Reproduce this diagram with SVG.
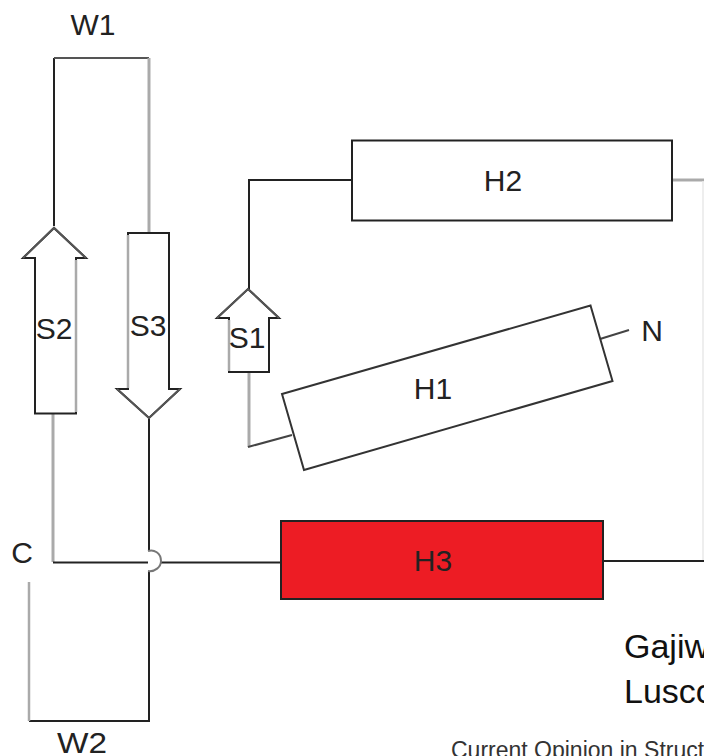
<svg xmlns="http://www.w3.org/2000/svg" width="704" height="756" viewBox="0 0 704 756">
<style>
.l{font-family:"Liberation Sans",Arial,sans-serif;fill:#222;text-anchor:middle;font-size:30px}
.t{font-family:"Liberation Sans",Arial,sans-serif;fill:#111;font-size:34px}
.c{fill:none;stroke:#222;stroke-width:2}
.g{fill:none;stroke:#aaa;stroke-width:3}
.n{fill:#fff;stroke:#222;stroke-width:2}
.s{fill:none;stroke:#aaa;stroke-width:2.500}
.h{fill:none;stroke:#555;stroke-width:2}
.d{fill:none;stroke:#444;stroke-width:2}
</style>
<rect width="704" height="756" fill="#fff"/>
<g id="connectors">
<path class="c" d="M54 226V58"/>
<path class="h" d="M54 58H149"/>
<path class="g" d="M149 58V233"/>
<path class="c" d="M351 180H249V290"/>
<path class="g" d="M249 373V447"/>
<path class="d" d="M248 447L292 435"/>
<path class="g" d="M672 180H704"/>
<path fill="none" stroke="#e8e8e8" stroke-width="1.500" d="M703 181V560"/>
<path class="d" d="M600 339L629 330"/>
<path class="g" d="M53 414V562"/>
<path class="c" d="M53 562.500H148M161 562.500H281"/>
<path class="c" d="M149 419V551M149 571V721H29"/>
<path fill="none" stroke="#777" stroke-width="2" d="M148 551C154 549 161 553 161 561C161 567 155 572 148 571"/>
<path class="s" d="M29 582V721"/>
<path class="c" d="M603 561H704"/>
</g>
<g id="S2"><path class="n" d="M35 413.500V258H23L54 228L86 258H76V413.500Z"/><path class="s" d="M76 260V412"/><path class="h" d="M23 258L54 228L86 258"/><text class="l" x="54" y="339">S2</text></g>
<g id="S3"><path class="n" d="M128 233H169V389H180L149 418L117 389H128Z"/><path class="s" d="M128 235V388"/><path class="h" d="M117 389L149 418L180 389"/><text class="l" x="148" y="336">S3</text></g>
<g id="S1"><path class="n" d="M229 372V318H217L248 289L279 318H269V372Z"/><path class="s" d="M229 320V371"/><path class="h" d="M217 318L248 289L279 318"/><text class="l" x="247" y="348">S1</text></g>
<g id="H2"><rect class="n" x="352" y="140.500" width="320" height="80"/><text class="l" x="503" y="191">H2</text></g>
<g id="H1"><path fill="#fff" stroke="#333" stroke-width="2" d="M282 394L590.500 305.500L612.500 381L304 470Z"/><text class="l" x="433" y="399">H1</text></g>
<g id="N"><text class="l" x="652" y="341">N</text></g>
<g id="H3"><rect x="281" y="521" width="322" height="78" fill="#ed1c24" stroke="#222" stroke-width="2"/><text class="l" x="433" y="571">H3</text></g>
<g id="W1"><text class="l" x="93" y="35">W1</text></g>
<g id="W2"><text class="l" x="82" y="753" textLength="50" lengthAdjust="spacingAndGlyphs">W2</text></g>
<g id="C"><text class="l" x="22" y="563">C</text></g>
<text class="t" x="624" y="658">Gajiw</text>
<text class="t" x="624" y="703">Lusco</text>
<text x="451" y="758" font-family="'Liberation Sans',Arial,sans-serif" font-size="23" fill="#333">Current Opinion in Structural Biology</text>
</svg>
